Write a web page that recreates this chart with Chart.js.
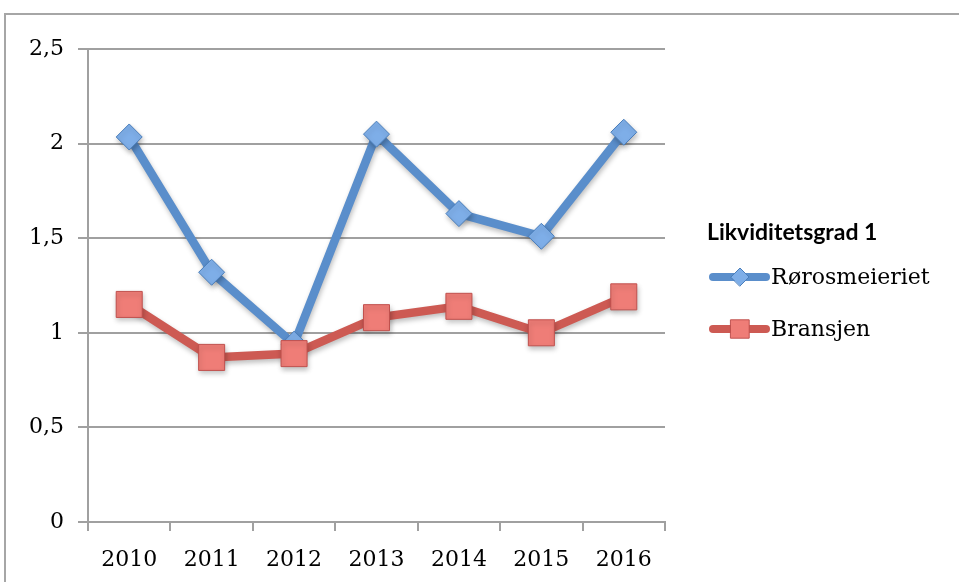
<!DOCTYPE html>
<html>
<head>
<meta charset="utf-8">
<script src="https://cdn.jsdelivr.net/npm/chart.js@4/dist/chart.umd.min.js"></script>
<style>
html,body{margin:0;padding:0;background:#fff;}
#wrap{width:959px;height:582px;position:relative;}
</style>
</head>
<body>
<div id="wrap"><canvas id="c" width="959" height="582"></canvas></div>
<script>
const categories = ['2010','2011','2012','2013','2014','2015','2016'];
const rorosValues = [2.035, 1.32, 0.94, 2.05, 1.63, 1.51, 2.06];
const bransjenValues = [1.15, 0.87, 0.89, 1.08, 1.14, 1.00, 1.19];
const yTickLabels = ['0','0,5','1','1,5','2','2,5'];
const legendTitle = 'Likviditetsgrad 1';
const seriesNames = ['Rørosmeieriet','Bransjen'];

const BLUE = '#5a8ecb', BLUE_FILL = '#7eaee8', BLUE_BORDER = '#4a7ebb';
const RED = '#cd5a53', RED_FILL = '#ef7d77', RED_BORDER = '#c0504d';
const GRID = '#a0a0a0';
const SERIF = '"DejaVu Serif", serif';

const frame = {
  id: 'frame',
  beforeDraw(chart) {
    const ctx = chart.ctx;
    ctx.save();
    ctx.fillStyle = '#fff';
    ctx.fillRect(0,0,chart.width,chart.height);
    ctx.strokeStyle = '#a6a6a6';
    ctx.lineWidth = 2;
    ctx.strokeRect(5, 14, 1100, 1100);
    ctx.restore();
  }
};

const shadow = {
  id: 'shadow',
  beforeDatasetsDraw(chart) {
    const ctx = chart.ctx;
    ctx.save();
    ctx.shadowColor = 'rgba(0,0,0,0.25)';
    ctx.shadowBlur = 5;
    ctx.shadowOffsetX = 1;
    ctx.shadowOffsetY = 3;
  },
  afterDatasetsDraw(chart) { chart.ctx.restore(); }
};

const legendPlugin = {
  id: 'customLegend',
  afterDraw(chart) {
    const ctx = chart.ctx;
    ctx.save();
    ctx.fillStyle = '#000';
    ctx.textBaseline = 'alphabetic';
    ctx.textAlign = 'left';
    ctx.font = 'bold 23px Lato, "Liberation Sans", sans-serif';
    ctx.fillText(legendTitle, 707, 240);
    const items = [
      {name: seriesNames[0], color: BLUE, fill: BLUE_FILL, border: BLUE_BORDER, style: 'rectRot', r: 9, y: 277},
      {name: seriesNames[1], color: RED, fill: RED_FILL, border: RED_BORDER, style: 'rect', r: 13, y: 329}
    ];
    items.forEach(it => {
      ctx.strokeStyle = it.color;
      ctx.lineWidth = 8;
      ctx.lineCap = 'round';
      ctx.beginPath();
      ctx.moveTo(713, it.y);
      ctx.lineTo(766, it.y);
      ctx.stroke();
      ctx.fillStyle = it.fill;
      ctx.strokeStyle = it.border;
      ctx.lineWidth = 1;
      Chart.helpers.drawPoint(ctx, {pointStyle: it.style, radius: it.r, rotation: 0, borderWidth: 1}, 740, it.y);
      ctx.fillStyle = '#000';
      ctx.font = '22px ' + SERIF;
      ctx.textBaseline = 'middle';
      ctx.fillText(it.name, 771, it.y + 1);
      ctx.textBaseline = 'alphabetic';
    });
    ctx.restore();
  }
};

new Chart(document.getElementById('c'), {
  type: 'line',
  data: {
    labels: categories,
    datasets: [
      {
        label: seriesNames[0],
        data: rorosValues,
        borderColor: BLUE,
        borderWidth: 8.5,
        backgroundColor: BLUE_FILL,
        pointBackgroundColor: BLUE_FILL,
        pointBorderColor: BLUE_BORDER,
        pointBorderWidth: 1,
        pointStyle: 'rectRot',
        pointRadius: 13,
        tension: 0,
        order: 1
      },
      {
        label: seriesNames[1],
        data: bransjenValues,
        borderColor: RED,
        borderWidth: 8.5,
        backgroundColor: RED_FILL,
        pointBackgroundColor: RED_FILL,
        pointBorderColor: RED_BORDER,
        pointBorderWidth: 1,
        pointStyle: 'rect',
        pointRadius: 18.4,
        tension: 0,
        order: 0
      }
    ]
  },
  options: {
    responsive: false,
    animation: false,
    devicePixelRatio: 1,
    layout: { padding: { left: 0, top: 49, right: 294, bottom: 0 } },
    plugins: { legend: { display: false }, tooltip: { enabled: false } },
    scales: {
      x: {
        offset: true,
        grid: { offset: true, drawOnChartArea: false, color: GRID, lineWidth: 2, tickLength: 9 },
        border: { color: GRID, width: 2 },
        ticks: { color: '#000', font: { family: SERIF, size: 22 }, padding: 16, maxRotation: 0, autoSkip: false },
        afterFit(s) { s.height = 60; }
      },
      y: {
        min: 0, max: 2.5,
        grid: { color: GRID, lineWidth: 2, tickLength: 10 },
        border: { color: GRID, width: 2 },
        ticks: {
          stepSize: 0.5,
          color: '#000',
          font: { family: SERIF, size: 22 },
          padding: 14,
          callback: (v, i) => yTickLabels[i]
        },
        afterFit(s) { s.width = 88; }
      }
    }
  },
  plugins: [frame, shadow, legendPlugin]
});
</script>
</body>
</html>
